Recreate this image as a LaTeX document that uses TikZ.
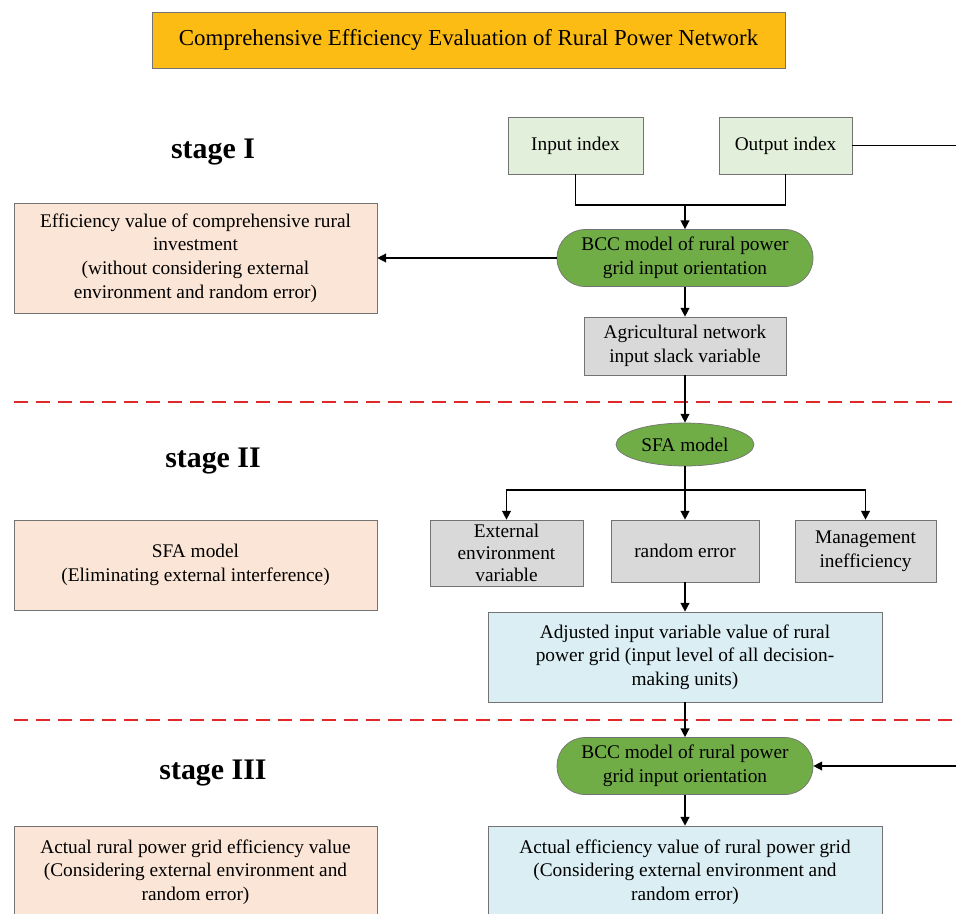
\documentclass[tikz,border=0pt]{standalone}
\usepackage{fontspec}
\setmainfont{Liberation Serif}
\usetikzlibrary{positioning,arrows.meta,shapes.geometric,calc}

\definecolor{titlegold}{RGB}{252,188,20}
\definecolor{idxgreen}{RGB}{226,239,218}
\definecolor{bccgreen}{RGB}{112,173,71}
\definecolor{peach}{RGB}{251,229,214}
\definecolor{slackgray}{RGB}{217,217,217}
\definecolor{adjblue}{RGB}{218,238,243}
\definecolor{stagered}{RGB}{224,40,40}

\begin{document}
\begin{tikzpicture}[
    x=0.02cm, y=-0.02cm,
    txt/.style={font=\fontsize{11}{13.5}\selectfont, align=center},
    box/.style={draw=black!55, rectangle, txt, inner sep=2pt},
    titlebox/.style={box, fill=titlegold, minimum width=12.66cm, minimum height=1.12cm, font=\fontsize{13}{15}\selectfont},
    idxbox/.style={box, fill=idxgreen, minimum width=2.7cm, minimum height=1.14cm},
    bccbox/.style={box, fill=bccgreen, rounded corners=0.56cm, minimum width=5.12cm, minimum height=1.14cm},
    slackbox/.style={box, fill=slackgray},
    resbox/.style={box, fill=peach, minimum width=7.26cm},
    adjbox/.style={box, fill=adjblue, minimum width=7.88cm},
    stagelbl/.style={font=\fontsize{17}{20}\selectfont\bfseries},
    sep/.style={stagered, line width=1.4pt, dash pattern=on 0.28cm off 0.16cm},
    line/.style={black, thick},
    arrow/.style={-{Triangle[length=5pt,width=5pt]}, black, thick}
]
\useasboundingbox (0,0) rectangle (956,913);
\clip (0,0) rectangle (956,913);

% Titel
\node[titlebox] (title) at (468.5,40) {Comprehensive Efficiency Evaluation of Rural Power Network};

% Stufe I
\node[stagelbl] (st1) at (213,152) {stage I};
\node[idxbox] (inp) at (575.5,145.5) {Input index};
\node[idxbox, minimum width=2.66cm] (outp) at (785.5,145.5) {Output index};
\node[bccbox] (bcc1) at (685,258) {BCC model of rural power\\grid input orientation};
\node[resbox, minimum height=2.2cm] (eff1) at (195.5,258) {Efficiency value of comprehensive rural\\investment\\(without considering external\\environment and random error)};
\node[slackbox, minimum width=4.04cm, minimum height=1.16cm] (slack) at (685,346) {Agricultural network\\input slack variable};

% Stufe II
\node[stagelbl] (st2) at (213,461) {stage II};
\node[draw=black!55, ellipse, fill=bccgreen, txt, minimum width=2.76cm, minimum height=0.86cm, inner sep=0pt] (sfa) at (685,444.5) {SFA model};
\node[slackbox, minimum width=3.06cm, minimum height=1.32cm, inner ysep=-2pt, font=\fontsize{11}{12.5}\selectfont] (ext) at (506.5,553) {External\\environment\\variable};
\node[slackbox, minimum width=2.96cm, minimum height=1.24cm] (rnd) at (685,551) {random error};
\node[slackbox, minimum width=2.82cm, minimum height=1.24cm] (mgt) at (865.5,551) {Management\\inefficiency};
\node[resbox, minimum height=1.8cm] (eff2) at (195.5,565) {SFA model\\(Eliminating external interference)};
\node[adjbox, minimum height=1.8cm] (adj) at (685,657) {Adjusted input variable value of rural\\power grid (input level of all decision-\\making units)};

% Stufe III
\node[stagelbl] (st3) at (213,773) {stage III};
\node[bccbox] (bcc2) at (685,766) {BCC model of rural power\\grid input orientation};
\node[adjbox, minimum height=1.84cm] (act) at (685,872) {Actual efficiency value of rural power grid\\(Considering external environment and\\random error)};
\node[resbox, minimum height=1.84cm] (eff3) at (195.5,872) {Actual rural power grid efficiency value\\(Considering external environment and\\random error)};

% Trennlinien
\coordinate (s1l) at (14,402);
\coordinate (s1r) at (956,402);
\coordinate (s2l) at (14,720);
\coordinate (s2r) at (956,720);
\draw[sep] (s1l) -- (s1r);
\draw[sep] (s2l) -- (s2r);

% Verbindungen
\coordinate (j1) at (685,205);
\draw[line] (inp.south) |- (j1);
\draw[line] (outp.south) |- (j1);
\draw[arrow] (j1) -- (bcc1.north);
\draw[arrow] (bcc1.west) -- (eff1.east);
\draw[arrow] (bcc1) -- (slack);
\draw[arrow] (slack) -- (sfa);

\coordinate (j2) at (685,490);
\draw[line] (sfa.south) -- (j2);
\draw[arrow] (j2) -| (ext.north);
\draw[arrow] (j2) -- (rnd.north);
\draw[arrow] (j2) -| (mgt.north);
\draw[arrow] (rnd) -- (adj);
\draw[arrow] (adj) -- (bcc2);
\draw[arrow] (bcc2) -- (act);

% Output index -> BCC (Stufe III), rechts aus dem Bild
\coordinate (rt) at (1000,145.5);
\draw[arrow] (outp.east) -- (rt) |- (bcc2.east);

\end{tikzpicture}
\end{document}
